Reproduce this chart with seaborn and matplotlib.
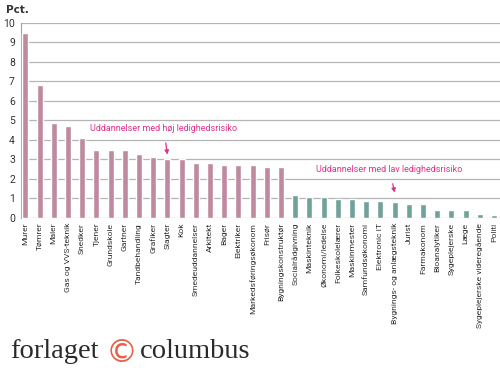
import matplotlib
matplotlib.use("Agg")
import matplotlib.pyplot as plt
from matplotlib import font_manager
import pandas as pd
import seaborn as sns

# uddannelser og ledighed i pct.
hoej = ["Murer", "Tømrer", "Maler", "Gas og VVS-teknik", "Snedker", "Tjener",
        "Grundskole", "Gartner", "Tandbehandling", "Grafiker", "Slagter", "Kok",
        "Smedeuddannelser", "Arkitekt", "Bager", "Elektriker",
        "Markedsføringsøkonom", "Frisør", "Bygningskonstruktør"]
hoej_pct = [9.5, 6.8, 4.85, 4.7, 4.1, 3.5, 3.5, 3.5, 3.3, 3.1, 3.0, 3.0,
            2.8, 2.8, 2.7, 2.7, 2.7, 2.6, 2.6]

lav = ["Socialrådgivning", "Maskinteknik", "Økonomi/ledelse", "Folkeskolelærer",
       "Maskinmester", "Samfundsøkonomi", "Elektronic IT",
       "Bygnings- og anlægsteknik", "Jurist", "Farmakonom", "Bioanalytiker",
       "Sygeplejerske", "Læge", "Sygeplejerske videregående", "Politi"]
lav_pct = [1.2, 1.08, 1.08, 0.98, 0.98, 0.88, 0.88, 0.8, 0.73, 0.73,
           0.42, 0.42, 0.42, 0.2, 0.13]

df = pd.DataFrame({
    "uddannelse": hoej + lav,
    "pct": hoej_pct + lav_pct,
    "gruppe": ["høj"] * len(hoej) + ["lav"] * len(lav),
})

pink = "#c8809e"
teal = "#68aa9f"
magenta = "#e0308a"

sns.set_style("white")
plt.rcParams["font.family"] = ["DejaVu Sans"]

# smal skrift hvis den findes
fams = {f.name for f in font_manager.fontManager.ttflist}
smal = "Liberation Sans Narrow" if "Liberation Sans Narrow" in fams else "Roboto"

fig = plt.figure(figsize=(5, 3.7), dpi=100)
ax = fig.add_axes([0.041, 0.411, 0.959, 0.527])

sns.barplot(data=df, x="uddannelse", y="pct", hue="gruppe",
            palette={"høj": pink, "lav": teal}, dodge=False, width=0.42,
            legend=False, ax=ax, zorder=3)

ax.set_ylim(0, 10)
ax.set_xlim(-0.34, len(df) - 0.58)
ax.set_yticks(range(0, 11))
ax.yaxis.grid(True, color="#b5b5b5", linewidth=0.9)
ax.set_axisbelow(True)
for s in ["top", "right", "bottom"]:
    ax.spines[s].set_visible(False)
ax.spines["left"].set_color("#a0a0a0")
ax.spines["left"].set_linewidth(0.8)
ax.set_xlabel("")
ax.set_ylabel("")
ax.tick_params(axis="y", labelsize=7.5, colors="#333333", length=3,
               width=0.6, pad=1, color="#a0a0a0")
ax.tick_params(axis="x", labelsize=6.1, colors="#333333", length=2.5,
               width=0.6, pad=1, color="#a0a0a0")
ax.set_xticks(range(len(df)))
ax.set_xticklabels(df["uddannelse"], rotation=90, ha="center", va="top",
                   family=smal)
for lbl in ax.get_yticklabels():
    lbl.set_family(smal)
    lbl.set_color("#333333")

fig.text(0.012, 0.972, "Pct.", fontsize=7.5, fontweight="bold",
         color="#333333", ha="left", va="center")

# annoteringer
i_slagter = hoej.index("Slagter")
ax.annotate("Uddannelser med høj ledighedsrisiko",
            xy=(i_slagter, 3.25), xytext=(i_slagter - 0.25, 4.6),
            fontsize=6.5, family=smal, color=magenta, ha="center", va="center",
            arrowprops=dict(arrowstyle="-|>", color=magenta, lw=0.9,
                            mutation_scale=6, shrinkA=5, shrinkB=0))
i_byg = len(hoej) + lav.index("Bygnings- og anlægsteknik")
ax.annotate("Uddannelser med lav ledighedsrisiko",
            xy=(i_byg, 1.3), xytext=(i_byg - 0.35, 2.5),
            fontsize=6.5, family=smal, color=magenta, ha="center", va="center",
            arrowprops=dict(arrowstyle="-|>", color=magenta, lw=0.9,
                            mutation_scale=6, shrinkA=5, shrinkB=0))

# forlagets logo
fig.text(0.02, 0.032, "forlaget", fontsize=20.5, family="Liberation Serif",
         color="#2a2a2a", ha="left", va="baseline")
fig.text(0.212, 0.022, "©", fontsize=23, family="DejaVu Sans",
         color="#e8604a", ha="left", va="baseline")
fig.text(0.28, 0.032, "columbus", fontsize=20.5, family="Liberation Serif",
         color="#2a2a2a", ha="left", va="baseline")

fig.savefig("out.png", dpi=100)
